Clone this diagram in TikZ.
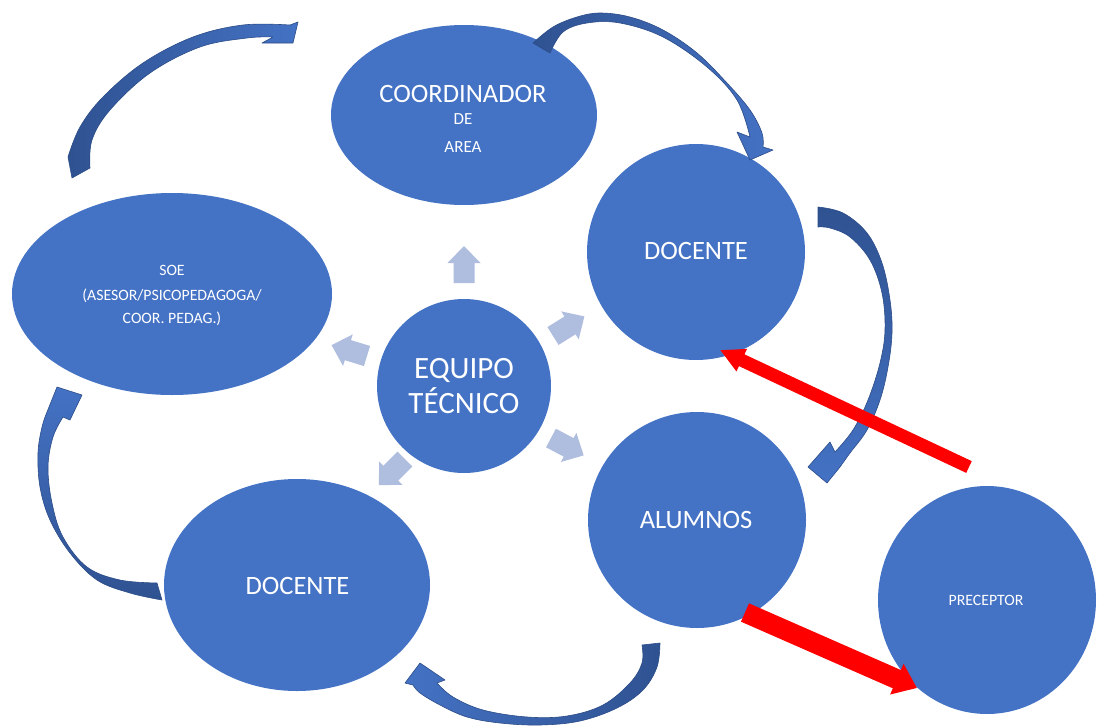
\documentclass[tikz,border=0pt]{standalone}
\usepackage{fontspec}
\setmainfont{Carlito}
\usetikzlibrary{shapes.geometric,arrows.meta}
\definecolor{nodeblue}{RGB}{68,114,196}
\definecolor{lightarr}{RGB}{175,189,223}
\definecolor{darkarr}{RGB}{47,82,145}
\definecolor{midarr}{RGB}{68,114,196}
\definecolor{arrline}{RGB}{44,76,136}
\newcommand{\fsmain}{\fontsize{26.5}{30}\selectfont}
\newcommand{\fseq}{\fontsize{31}{35}\selectfont}
\newcommand{\fsmid}{\fontsize{17}{20}\selectfont}
\newcommand{\fssmall}{\fontsize{15.8}{19}\selectfont}
\tikzset{
  blob/.style={ellipse, fill=nodeblue, draw=none, inner sep=0pt},
  lbl/.style={text=white, anchor=base, inner sep=0pt},
  curvarr/.style={draw=arrline, line width=0.6pt, line join=round},
  redarr/.style={draw=red, line cap=butt},
  blockarr/.pic={\fill[lightarr] (0,-10.5) -- (20,-10.5) -- (20,-16.5) -- (37,0) -- (20,16.5) -- (20,10.5) -- (0,10.5) -- cycle;}
}
\begin{document}
\begin{tikzpicture}[x=1pt,y=-1pt]
\useasboundingbox (0,0) rectangle (1104,726);
\fill[white] (0,0) rectangle (1104,726);

% ellipses
\node[blob, minimum width=266pt, minimum height=180pt] (coord) at (464,115) {};
\node[blob, minimum width=218pt, minimum height=216pt] (doc1) at (696,252) {};
\node[blob, minimum width=320pt, minimum height=202pt] (soe) at (172,294) {};
\node[blob, minimum width=174pt, minimum height=174pt] (eq) at (464,386) {};
\node[blob, minimum width=218pt, minimum height=216pt] (alum) at (697,520) {};
\node[blob, minimum width=266pt, minimum height=212pt] (doc2) at (297,585) {};
\node[blob, minimum width=218pt, minimum height=228pt] (prec) at (987,600) {};

% texts
\node[lbl, font=\fsmain] (tcoord) at (463,102) {COORDINADOR};
\node[lbl, font=\fsmid] (tde) at (463,124.3) {DE};
\node[lbl, font=\fsmid] (tarea) at (463,152.3) {AREA};
\node[lbl, font=\fsmain] (tdoc1) at (696,259.5) {DOCENTE};
\node[lbl, font=\fssmall] (tsoe1) at (172,275) {SOE};
\node[lbl, font=\fssmall] (tsoe2) at (172,300) {(ASESOR/PSICOPEDAGOGA/};
\node[lbl, font=\fssmall] (tsoe3) at (172,323.3) {COOR. PEDAG.)};
\node[lbl, font=\fseq] (teq1) at (464,378) {EQUIPO};
\node[lbl, font=\fseq] (teq2) at (464,413) {TÉCNICO};
\node[lbl, font=\fsmain] (talum) at (696,528.5) {ALUMNOS};
\node[lbl, font=\fsmain] (tdoc2) at (297.5,594.5) {DOCENTE};
\node[lbl, font=\fssmall] (tprec) at (986,605) {PRECEPTOR};

% small block arrows from the centre
\pic[rotate=90] at (464,283) {blockarr};
\pic[rotate=163] at (367,356) {blockarr};
\pic[rotate=32] at (553,336) {blockarr};
\pic[rotate=-28] at (551,438) {blockarr};
\pic[rotate=225] at (405,459) {blockarr};

% curved arrows
\path[curvarr, left color=darkarr, right color=midarr] (72,178) -- plot[smooth, tension=0.6] coordinates {(68,157) (80,127) (103,97) (143,63) (193,37) (243,25) (290,25)} -- (298,22) -- (293,43) -- (262,43) -- plot[smooth, tension=0.6] coordinates {(273,37) (247,38) (200,47) (150,73) (110,110) (92,140) (90,168)} -- cycle;

\path[curvarr, left color=darkarr, right color=midarr] (550,53) -- plot[smooth, tension=0.6] coordinates {(533,43) (553,27) (577,17) (600,13) (630,17) (663,30) (697,53) (727,83) (750,110) (762,133) (763,147)} -- (773,150) -- (750,160) -- (737,132) -- plot[smooth, tension=0.6] coordinates {(750,137) (737,100) (707,67) (663,37) (620,23) (587,23) (563,32) (550,53)} -- cycle;

\path[curvarr, top color=darkarr, bottom color=midarr] (818,227) -- plot[smooth, tension=0.6] coordinates {(818,207) (843,213) (867,233) (882,263) (890,300) (892,333) (888,367) (880,400) (867,430) (850,453) (840,467)} -- (827,483) -- (808,467) -- (830,442) -- plot[smooth, tension=0.6] coordinates {(835,452) (853,430) (868,400) (880,363) (885,330) (882,293) (870,260) (850,237) (830,228) (818,227)} -- cycle;

\path[curvarr, left color=midarr, right color=darkarr] (642,645) -- plot[smooth, tension=0.6] coordinates {(660,643) (657,667) (643,690) (617,708) (580,721) (540,725) (500,723) (467,717) (440,705) (420,693) (413,685)} -- (405,683) -- (420,663) -- (445,680) -- plot[smooth, tension=0.6] coordinates {(437,683) (453,697) (483,710) (527,717) (567,716) (603,705) (630,683) (642,663) (642,645)} -- cycle;

\path[curvarr, top color=midarr, bottom color=darkarr] (157,583) -- plot[smooth, tension=0.6] coordinates {(162,600) (130,593) (97,580) (70,553) (50,520) (40,487) (38,453) (42,427) (47,412)} -- (57,387) -- (82,395) -- (70,420) -- plot[smooth, tension=0.6] coordinates {(63,417) (53,437) (48,467) (52,503) (63,537) (87,567) (120,580) (157,583)} -- cycle;

% red arrows
\coordinate (r1s) at (969,467);
\coordinate (r1e) at (720,350);
\coordinate (r2s) at (745,612.5);
\coordinate (r2e) at (917,688);
\draw[redarr, line width=13pt, -{Triangle[length=24pt, width=23pt]}] (r1s) -- (r1e);
\draw[redarr, line width=20pt, -{Triangle[length=22pt, width=32pt]}] (r2s) -- (r2e);
\end{tikzpicture}
\end{document}
